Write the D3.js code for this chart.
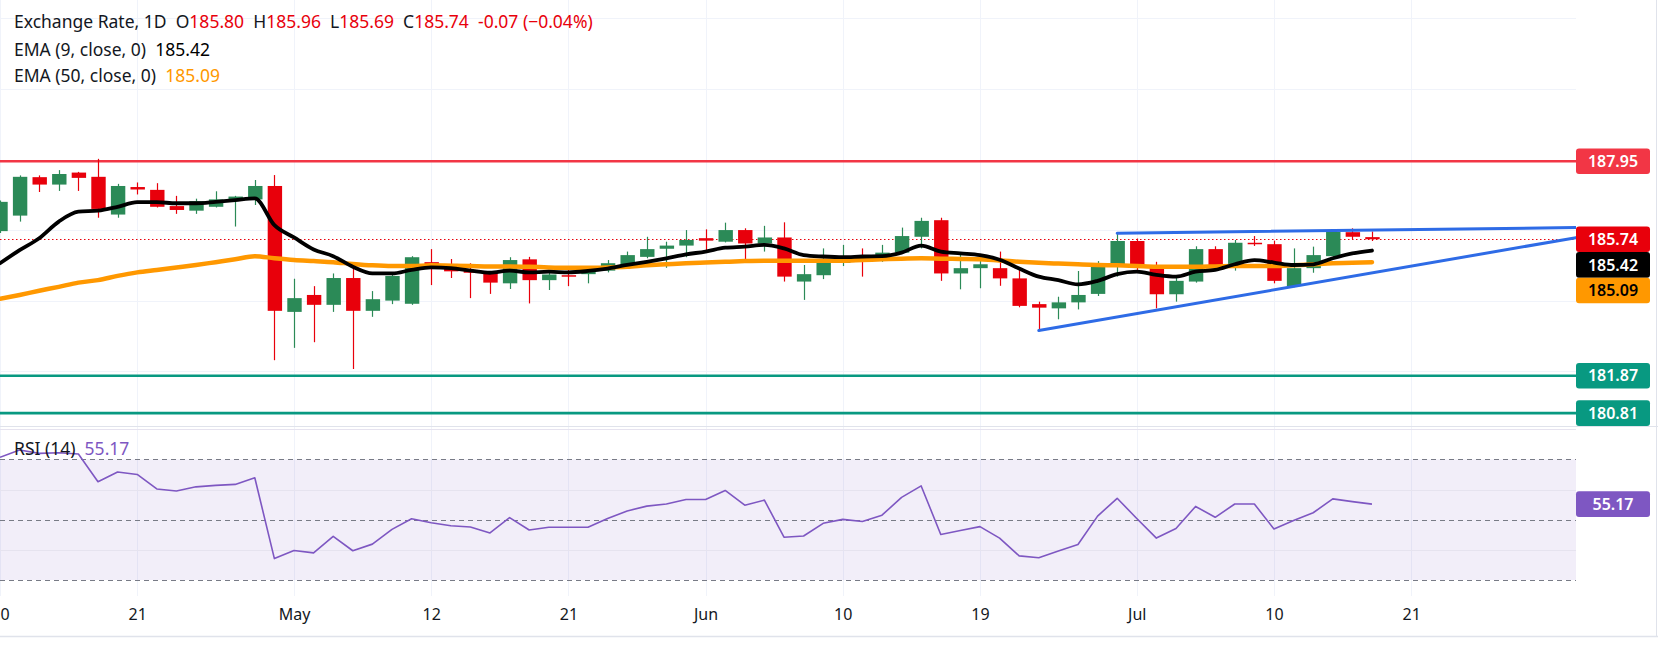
<!DOCTYPE html>
<html><head><meta charset="utf-8">
<script src="https://cdn.jsdelivr.net/npm/d3@7"></script>
<style>
html,body{margin:0;padding:0;background:#fff;overflow:hidden;}
svg{display:block;font-family:"Noto Sans",sans-serif;}
</style></head>
<body><svg id="chart" width="1658" height="647"></svg>
<script>
// ---------------- DATA ----------------
const dates = [
"2026-04-10","2026-04-13","2026-04-14","2026-04-15","2026-04-16","2026-04-17","2026-04-20","2026-04-21","2026-04-22","2026-04-23",
"2026-04-24","2026-04-27","2026-04-28","2026-04-29","2026-04-30","2026-05-01","2026-05-04","2026-05-05","2026-05-06","2026-05-07",
"2026-05-08","2026-05-11","2026-05-12","2026-05-13","2026-05-14","2026-05-15","2026-05-18","2026-05-19","2026-05-20","2026-05-21",
"2026-05-22","2026-05-25","2026-05-26","2026-05-27","2026-05-28","2026-05-29","2026-06-01","2026-06-02","2026-06-03","2026-06-04",
"2026-06-05","2026-06-08","2026-06-09","2026-06-10","2026-06-11","2026-06-12","2026-06-15","2026-06-16","2026-06-17","2026-06-18",
"2026-06-19","2026-06-22","2026-06-23","2026-06-24","2026-06-25","2026-06-26","2026-06-29","2026-06-30","2026-07-01","2026-07-02",
"2026-07-03","2026-07-06","2026-07-07","2026-07-08","2026-07-09","2026-07-10","2026-07-13","2026-07-14","2026-07-15","2026-07-16",
"2026-07-17"];
const opens = [
185.97,186.41,187.50,187.29,187.63,187.51,186.44,187.22,187.14,186.68,
186.55,186.66,186.87,186.87,187.25,183.68,184.16,183.88,184.64,183.71,
184.00,183.91,185.09,185.04,184.87,184.81,184.49,185.17,184.58,184.72,
184.75,184.85,185.01,185.24,185.47,185.56,185.77,185.67,186.00,185.62,
185.79,184.54,184.72,185.07,185.20,185.13,185.36,185.81,186.28,184.77,
184.92,184.92,184.63,183.90,183.78,183.95,184.19,184.96,185.69,184.98,
184.18,184.54,185.46,184.99,185.64,185.60,184.41,184.92,185.26,185.94,
185.80];
const highs = [
186.84,187.55,187.55,187.70,187.65,188.02,187.31,187.35,187.33,186.97,
186.89,187.10,186.97,187.42,187.56,184.62,184.41,184.77,185.06,184.27,
184.77,185.26,185.46,185.18,185.06,184.83,185.23,185.24,184.82,184.96,
184.86,185.15,185.39,185.81,185.67,186.00,186.02,186.21,186.05,186.12,
186.22,185.01,185.48,185.58,185.48,185.58,186.07,186.35,186.35,185.34,
185.15,185.39,184.87,183.97,184.11,184.84,185.12,185.91,185.76,185.10,
184.68,185.54,185.54,185.72,185.83,185.70,185.48,185.53,186.00,186.05,
185.96];
const lows = [
185.92,186.24,187.08,187.11,187.11,186.35,186.35,187.01,186.64,186.46,
186.46,186.64,186.10,186.71,182.31,182.66,182.82,183.68,182.06,183.54,
183.90,183.88,184.44,184.64,184.07,184.19,184.33,183.92,184.30,184.41,
184.49,184.80,184.92,185.20,184.93,185.23,185.41,185.65,185.15,185.39,
184.54,184.02,184.61,184.98,184.68,185.10,185.33,185.48,184.56,184.32,
184.35,184.42,183.81,183.15,183.47,183.75,184.13,184.68,184.87,183.78,
183.97,184.51,184.87,184.85,185.55,184.49,184.38,184.79,185.24,185.74,
185.69];
const closes = [
186.80,187.51,187.29,187.59,187.48,186.60,187.25,187.15,186.66,186.57,
186.82,186.87,186.95,187.25,183.71,184.07,183.88,184.64,183.71,184.04,
184.70,185.23,185.01,184.83,184.79,184.51,185.15,184.58,184.74,184.69,
184.84,185.06,185.29,185.46,185.56,185.72,185.70,186.00,185.62,185.79,
184.68,184.75,185.12,185.20,185.13,185.36,185.83,186.26,184.77,184.92,
185.03,184.63,183.85,183.80,183.95,184.16,184.98,185.69,184.96,184.18,
184.56,185.46,184.99,185.64,185.60,184.56,184.92,185.29,185.95,185.81,
185.74];
const ema9 = [
185.06,185.43,185.77,186.24,186.52,186.55,186.66,186.79,186.79,186.76,
186.76,186.80,186.85,186.90,186.14,185.79,185.45,185.26,184.96,184.77,
184.77,184.87,184.94,184.92,184.85,184.79,184.85,184.80,184.82,184.80,
184.84,184.91,185.01,185.10,185.20,185.31,185.39,185.50,185.53,185.58,
185.48,185.29,185.25,185.23,185.25,185.26,185.36,185.56,185.39,185.34,
185.29,185.16,184.91,184.68,184.58,184.46,184.56,184.75,184.82,184.73,
184.68,184.82,184.87,185.03,185.15,185.08,185.01,185.03,185.20,185.34,
185.42];
const ema50 = [
184.05,184.16,184.28,184.39,184.51,184.58,184.70,184.80,184.87,184.94,
185.01,185.09,185.17,185.26,185.20,185.15,185.12,185.09,185.04,185.00,
184.98,184.98,185.00,184.99,184.98,184.97,184.97,184.96,184.94,184.93,
184.93,184.94,184.96,185.00,185.03,185.06,185.08,185.10,185.12,185.13,
185.13,185.13,185.13,185.13,185.15,185.17,185.19,185.20,185.19,185.18,
185.17,185.14,185.10,185.07,185.05,185.03,185.01,185.00,184.98,184.96,
184.96,184.96,184.97,184.98,184.98,184.98,185.00,185.03,185.06,185.07,
185.09];
const rsi14 = [
70.7,73.1,72.0,72.2,71.8,62.6,65.8,65.0,60.2,59.5,
60.9,61.4,61.7,63.9,37.1,39.8,39.0,44.5,39.7,41.9,
46.8,50.3,49.0,48.0,47.6,45.6,50.7,46.6,47.5,47.5,
47.5,50.4,52.9,54.5,55.2,56.7,56.7,59.7,54.8,56.5,
44.2,44.6,48.8,50.1,49.4,51.5,57.4,61.2,45.1,46.4,
47.7,43.9,38.0,37.4,39.6,41.8,51.2,57.1,50.4,43.9,
47.1,54.4,50.8,55.2,55.2,46.9,49.7,52.3,56.9,56.0,
55.17];
const tickDates  = ["2026-04-10","2026-04-21","2026-05-01","2026-05-12","2026-05-21","2026-06-01","2026-06-10","2026-06-19","2026-07-01","2026-07-10","2026-07-21"];
const tickLabels = ["10","21","May","12","21","Jun","10","19","Jul","10","21"];
const priceGrid = [180, 182, 184, 186, 188, 190, 192];
const priceTicks = [184, 186, 190, 192];
const rsiTicks = [40, 60, 80];
const rsiBands = [70, 50, 30];
const levelValues = [187.95, 181.87, 180.81];
const levelColors = ["#f23645", "#089981", "#089981"];
// trend lines: start anchor and second anchor (extended to the right edge)
const trendStart = [["2026-06-30", 185.91], ["2026-06-24", 183.15]];
const trendAnchor = [["2026-07-15", 185.985], ["2026-07-13", 184.40]];
const lastClose = 185.74, lastEma9 = 185.42, lastEma50 = 185.09, lastRsi = 55.17;
const header = {name:"Exchange Rate, 1D", O:"185.80", H:"185.96", L:"185.69", C:"185.74", chg:"-0.07 (\u22120.04%)"};

// ---------------- LAYOUT ----------------
const W = 1658, H = 647;
const plotR = 1576;
const priceTop = 0, priceBot = 426, rsiTop = 427, rsiBot = 596, axisBot = 636;
const RED = "#e8000b", GREEN = "#2b8a57", ORANGE = "#ff9800", PURPLE = "#7e57c2", BLUE = "#2e6be6";
const GRID = "#f0f3fa", BORDER = "#e0e3eb", TEXT = "#131722";

const svg = d3.select("#chart");
svg.append("rect").attr("width", W).attr("height", H).attr("fill", "#fff");

const t0 = new Date(dates[0] + "T00:00:00Z");
function sessionIndex(s) {
  const d = new Date(s + "T00:00:00Z");
  return d3.utcDay.range(t0, d).filter(x => { const w = x.getUTCDay(); return w !== 0 && w !== 6; }).length;
}
const x = d3.scaleLinear().domain([0, 80.41]).range([0, plotR]);
const yP = d3.scaleLinear().domain([180.81, 187.95]).range([413.1, 161.3]);
const yR = d3.scaleLinear().domain([30, 70]).range([580, 459.4]);

const candles = dates.map((d, i) => ({i: sessionIndex(d), o: opens[i], h: highs[i], l: lows[i], c: closes[i]}));

const defs = svg.append("defs");
defs.append("clipPath").attr("id", "cp").append("rect").attr("x", 0).attr("y", priceTop).attr("width", plotR).attr("height", priceBot - priceTop);
defs.append("clipPath").attr("id", "cr").append("rect").attr("x", 0).attr("y", rsiTop).attr("width", plotR).attr("height", rsiBot - rsiTop);
defs.append("clipPath").attr("id", "cpa").append("rect").attr("x", plotR).attr("y", priceTop).attr("width", W - plotR).attr("height", priceBot - priceTop);
defs.append("clipPath").attr("id", "cra").append("rect").attr("x", plotR).attr("y", 418).attr("width", W - plotR).attr("height", rsiBot - 418);

// ---- grid ----
const tickIdx = tickDates.map(sessionIndex);
const grid = svg.append("g");
grid.selectAll("line.v").data(tickIdx).join("line")
  .attr("x1", d => Math.round(x(d)) + 0.5).attr("x2", d => Math.round(x(d)) + 0.5)
  .attr("y1", 0).attr("y2", rsiBot).attr("stroke", GRID).attr("stroke-width", 1);
grid.append("g").attr("clip-path", "url(#cp)").selectAll("line").data(priceGrid).join("line")
  .attr("x1", 0).attr("x2", plotR).attr("y1", d => Math.round(yP(d)) + 0.5).attr("y2", d => Math.round(yP(d)) + 0.5)
  .attr("stroke", GRID);

// ---- RSI pane ----
const rsiG = svg.append("g").attr("clip-path", "url(#cr)");
rsiG.append("rect").attr("x", 0).attr("width", plotR)
  .attr("y", yR(rsiBands[0])).attr("height", yR(rsiBands[2]) - yR(rsiBands[0]))
  .attr("fill", PURPLE).attr("fill-opacity", 0.1);
rsiG.selectAll("line.g").data(rsiTicks).join("line")
  .attr("x1", 0).attr("x2", plotR).attr("y1", d => Math.round(yR(d)) + 0.5).attr("y2", d => Math.round(yR(d)) + 0.5)
  .attr("stroke", "#e6e3ef");
rsiG.selectAll("line.b").data(rsiBands).join("line")
  .attr("x1", 0).attr("x2", plotR).attr("y1", d => Math.round(yR(d)) + 0.5).attr("y2", d => Math.round(yR(d)) + 0.5)
  .attr("stroke", "#787b86").attr("stroke-dasharray", "5,4");
rsiG.append("path").datum(rsi14)
  .attr("d", d3.line().x((d, i) => x(candles[i].i)).y(d => yR(d)))
  .attr("fill", "none").attr("stroke", PURPLE).attr("stroke-width", 1.6).attr("stroke-linejoin", "round");

// ---- price pane ----
const pG = svg.append("g").attr("clip-path", "url(#cp)");
pG.selectAll("line.lvl").data(levelValues).join("line")
  .attr("x1", 0).attr("x2", plotR).attr("y1", d => yP(d)).attr("y2", d => yP(d))
  .attr("stroke", (d, i) => levelColors[i]).attr("stroke-width", 2.6);
pG.append("line").attr("x1", 0).attr("x2", plotR).attr("y1", Math.round(yP(lastClose)) + 0.5).attr("y2", Math.round(yP(lastClose)) + 0.5)
  .attr("stroke", RED).attr("stroke-width", 1).attr("stroke-dasharray", "1.5,2.5");

const bw = 14.4;
const cg = pG.append("g");
cg.selectAll("line.w").data(candles).join("line")
  .attr("x1", d => Math.round(x(d.i)) + 0.5).attr("x2", d => Math.round(x(d.i)) + 0.5)
  .attr("y1", d => yP(d.h)).attr("y2", d => yP(d.l))
  .attr("stroke", d => d.c >= d.o ? GREEN : RED).attr("stroke-width", 1.2);
cg.selectAll("rect").data(candles).join("rect")
  .attr("x", d => x(d.i) - bw / 2 + 0.5).attr("width", bw)
  .attr("y", d => yP(Math.max(d.o, d.c)))
  .attr("height", d => Math.max(1.5, Math.abs(yP(d.o) - yP(d.c))))
  .attr("fill", d => d.c >= d.o ? GREEN : RED);

const lineGen = d3.line().x((d, i) => x(candles[i].i)).y(d => yP(d)).curve(d3.curveMonotoneX);
pG.append("path").datum(ema50).attr("d", lineGen).attr("fill", "none")
  .attr("stroke", ORANGE).attr("stroke-width", 4.5).attr("stroke-linejoin", "round").attr("stroke-linecap", "round");
pG.append("path").datum(ema9).attr("d", lineGen).attr("fill", "none")
  .attr("stroke", "#000").attr("stroke-width", 3.8).attr("stroke-linejoin", "round").attr("stroke-linecap", "round");

trendStart.forEach((s, k) => {
  const a = trendAnchor[k];
  const i1 = sessionIndex(s[0]), i2 = sessionIndex(a[0]);
  const slope = (a[1] - s[1]) / (i2 - i1);
  const iEnd = x.domain()[1];
  pG.append("line")
    .attr("x1", x(i1)).attr("y1", yP(s[1]))
    .attr("x2", x(iEnd)).attr("y2", yP(s[1] + slope * (iEnd - i1)))
    .attr("stroke", BLUE).attr("stroke-width", 3).attr("stroke-linecap", "round");
});

// ---- borders ----
svg.append("line").attr("x1", 0).attr("x2", W).attr("y1", priceBot + 0.5).attr("y2", priceBot + 0.5).attr("stroke", BORDER);
svg.append("line").attr("x1", 0).attr("x2", W).attr("y1", axisBot + 0.5).attr("y2", axisBot + 0.5).attr("stroke", BORDER).attr("stroke-width", 1.5);
svg.append("line").attr("x1", W - 1.5).attr("x2", W - 1.5).attr("y1", 0).attr("y2", axisBot).attr("stroke", BORDER);

// ---- axes ----
const FS = 16;
const pAxis = svg.append("g").attr("transform", `translate(${plotR},0)`).attr("clip-path", "url(#cpa)")
  .call(d3.axisRight(yP).tickValues(priceTicks).tickFormat(d3.format(".2f")).tickSize(0).tickPadding(12));
const rAxis = svg.append("g").attr("transform", `translate(${plotR},0)`).attr("clip-path", "url(#cra)")
  .call(d3.axisRight(yR).tickValues(rsiTicks).tickFormat(d3.format(".2f")).tickSize(0).tickPadding(12));
const xAxis = svg.append("g").attr("transform", `translate(0,${rsiBot})`)
  .call(d3.axisBottom(x).tickValues(tickIdx).tickFormat((d, i) => tickLabels[i]).tickSize(0).tickPadding(13));
[pAxis, rAxis, xAxis].forEach(g => {
  g.select(".domain").remove();
  g.selectAll("text").attr("font-family", "Noto Sans").attr("font-size", FS).attr("fill", TEXT);
});

// ---- value labels on the axis ----
const boxH = 25.6, boxX = plotR, boxW = 74;
const labels = [
  {v: levelValues[0], y: yP(levelValues[0]), bg: levelColors[0], fg: "#fff"},
  {v: lastClose, y: yP(lastClose), bg: RED, fg: "#fff"},
  {v: lastEma9, y: yP(lastClose) + boxH, bg: "#000", fg: "#fff"},
  {v: lastEma50, y: yP(lastClose) + 2 * boxH, bg: ORANGE, fg: "#000"},
  {v: levelValues[1], y: yP(levelValues[1]), bg: levelColors[1], fg: "#fff"},
  {v: levelValues[2], y: yP(levelValues[2]), bg: levelColors[2], fg: "#fff"},
  {v: lastRsi, y: yR(lastRsi), bg: PURPLE, fg: "#fff"}
];
const lg = svg.append("g").selectAll("g").data(labels).join("g");
lg.append("rect").attr("x", boxX).attr("y", d => d.y - boxH / 2).attr("width", boxW).attr("height", boxH)
  .attr("rx", 3).attr("fill", d => d.bg);
lg.append("text").attr("x", boxX + boxW / 2).attr("y", d => d.y).attr("dy", "0.36em")
  .attr("text-anchor", "middle").attr("font-size", FS).attr("font-weight", 600).attr("fill", d => d.fg)
  .text(d => d.v.toFixed(2));

// ---- legends ----
const LFS = 17.5;
function legendLine(yv, parts) {
  const t = svg.append("text").attr("x", 14).attr("y", yv).attr("font-size", LFS)
    .attr("fill", TEXT).attr("xml:space", "preserve").style("white-space", "pre");
  parts.forEach(p => t.append("tspan").attr("fill", p[1] || TEXT).text(p[0]));
  return t;
}
legendLine(27.5, [[header.name + "  O"], [header.O, RED], ["  H"], [header.H, RED], ["  L"], [header.L, RED],
  ["  C"], [header.C, RED], ["  " + header.chg, RED]]);
legendLine(56, [["EMA (9, close, 0)  "], [lastEma9.toFixed(2), "#000"]]);
legendLine(82, [["EMA (50, close, 0)  "], [lastEma50.toFixed(2), ORANGE]]);
legendLine(455, [["RSI (14)  "], [lastRsi.toFixed(2), PURPLE]]);
</script>
</body></html>
